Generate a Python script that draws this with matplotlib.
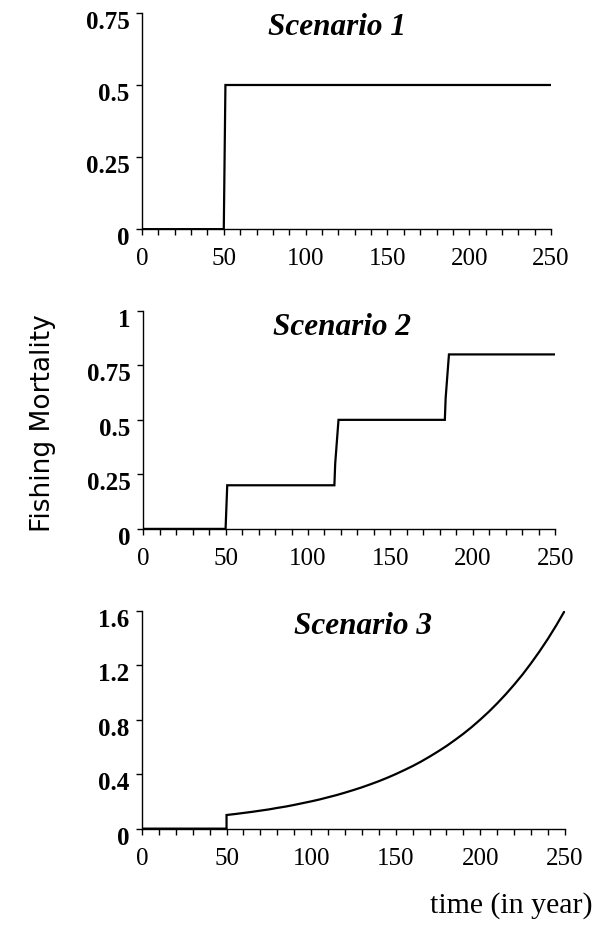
import matplotlib
matplotlib.use('Agg')
from matplotlib import pyplot as plt
from matplotlib.ticker import MultipleLocator
from matplotlib.transforms import ScaledTranslation

# scenario 1: constant F after year 50
s1_year = [0, 50, 51, 250]
s1_f = [0, 0, 0.5, 0.5]

# scenario 2: three steps
s2_year = [0, 50, 51, 116, 116.5, 118.5, 183, 183.5, 185.5, 250]
s2_f = [0, 0, 0.2, 0.2, 0.3, 0.5, 0.5, 0.6, 0.8, 0.8]

# scenario 3: increasing F after year 50 (read every 5 years)
s3_year = [0, 50, 50] + list(range(55, 251, 5))
s3_f = [0, 0, 0.10, 0.107, 0.115, 0.123, 0.132, 0.141, 0.152, 0.162, 0.174,
        0.187, 0.20, 0.214, 0.23, 0.246, 0.264, 0.283, 0.303, 0.325, 0.348,
        0.373, 0.40, 0.429, 0.459, 0.492, 0.528, 0.566, 0.606, 0.65, 0.696,
        0.746, 0.80, 0.857, 0.919, 0.985, 1.056, 1.131, 1.213, 1.30, 1.393,
        1.493, 1.60]

titles = ['Scenario 1', 'Scenario 2', 'Scenario 3']
yticks = [[0, 0.25, 0.5, 0.75], [0, 0.25, 0.5, 0.75, 1], [0, 0.4, 0.8, 1.2, 1.6]]
ytick_labels = [['0', '0.25', '0.5', '0.75'], ['0', '0.25', '0.5', '0.75', '1'],
                ['0', '0.4', '0.8', '1.2', '1.6']]
xticks = [0, 50, 100, 150, 200, 250]

serif = ['Liberation Serif', 'DejaVu Serif']

fig = plt.figure(figsize=(5.99, 9.28), dpi=100)

boxes = [[0.237, 0.752, 0.683, 0.233],
         [0.239, 0.429, 0.688, 0.235],
         [0.237, 0.106, 0.706, 0.235]]
title_pos = [(0.477, 0.935), (0.483, 0.93), (0.522, 0.93)]
data = [(s1_year, s1_f), (s2_year, s2_f), (s3_year, s3_f)]

# y tick labels sit a little below their ticks in the original
shift_down = ScaledTranslation(0, -0.06, fig.dpi_scale_trans)

for i in range(3):
    ax = fig.add_axes(boxes[i])
    x, y = data[i]
    ax.plot(x, y, color='black', linewidth=1.6, solid_joinstyle='miter')
    ax.set_xlim(0, 250)
    ax.set_ylim(0, yticks[i][-1])
    ax.spines['top'].set_visible(False)
    ax.spines['right'].set_visible(False)
    ax.spines['left'].set_linewidth(1.0)
    ax.spines['bottom'].set_linewidth(1.0)
    ax.set_xticks(xticks)
    ax.xaxis.set_minor_locator(MultipleLocator(10))
    ax.set_xticklabels([str(t) for t in xticks], fontfamily=serif, fontsize=18)
    ax.set_yticks(yticks[i])
    ax.set_yticklabels(ytick_labels[i], fontfamily=serif, fontsize=18,
                       fontweight='bold')
    ax.tick_params(axis='x', which='both', direction='out', length=4,
                   width=1, pad=9)
    ax.tick_params(axis='y', direction='out', length=4, width=1, pad=5)
    # after tick_params, which resets label transforms
    for lab in ax.get_yticklabels():
        lab.set_transform(lab.get_transform() + shift_down)
    ax.text(title_pos[i][0], title_pos[i][1], titles[i], transform=ax.transAxes,
            ha='center', va='center', fontfamily=serif, fontsize=22.5,
            fontweight='bold', fontstyle='italic')

fig.text(43 / 599, 1 - 423 / 928, 'Fishing Mortality', rotation=90,
         ha='center', va='center', fontsize=19, fontfamily='DejaVu Sans')
fig.text(511 / 599, 1 - 906 / 928, 'time (in year)', ha='center',
         va='center', fontsize=21.5, fontfamily=serif)

fig.savefig('out.png', dpi=100)
